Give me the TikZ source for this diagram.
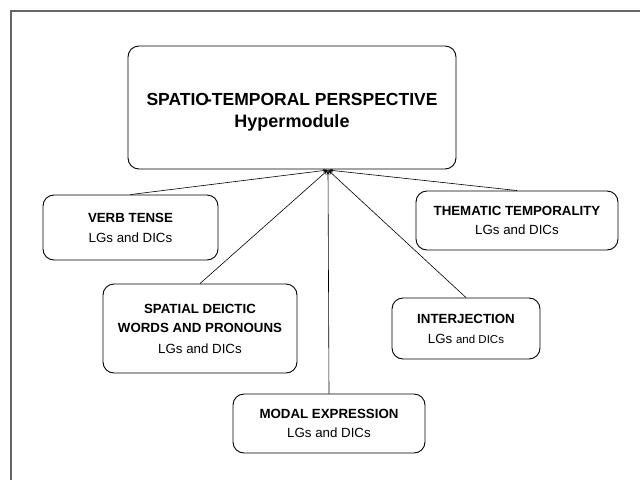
\documentclass[tikz,border=0pt]{standalone}
\usepackage{fontspec}
\setmainfont{Liberation Sans}
\usetikzlibrary{arrows.meta}
\begin{document}
\begin{tikzpicture}[x=1pt,y=-1pt,
  box/.style={draw, line width=0.9pt, rounded corners=11pt, align=center, inner sep=0pt},
  label text/.style={align=center, inner sep=0pt},
  link/.style={line width=0.6pt, -{Stealth[length=5pt,width=3pt]}},
  frame/.style={draw=black!60, line width=1.6pt}]
\useasboundingbox (0,0) rectangle (640,480);
\draw[frame] (11,480) -- (11,11) -- (640,11);
\node[box, minimum width=328pt, minimum height=123pt] (top) at (292,107.5) {};
\node[label text, font=\fontsize{17.5}{22}\selectfont\bfseries] (toptext) at (292,112)
  {SPATIO\kern-3pt-TEMPORAL PERSPECTIVE\\{\fontsize{18}{22}\selectfont Hypermodule}};
\coordinate (hub) at (328,170);
\node[box, minimum width=175pt, minimum height=65pt, font=\fontsize{13.3}{20}\selectfont] (verb) at (130.5,227.5)
  {\textbf{VERB TENSE}\\LGs and DICs};
\node[box, minimum width=202pt, minimum height=59pt, font=\fontsize{13.3}{19}\selectfont] (them) at (517,220.5)
  {\textbf{THEMATIC TEMPORALITY}\\LGs and DICs};
\node[box, minimum width=194pt, minimum height=89pt, font=\fontsize{13.3}{19.5}\selectfont] (spat) at (200,328.5)
  {\textbf{SPATIAL DEICTIC}\\\textbf{WORDS AND PRONOUNS}\\[1pt]LGs and DICs};
\node[box, minimum width=148pt, minimum height=61pt, font=\fontsize{13.3}{20}\selectfont] (inter) at (466,328.5)
  {\textbf{INTERJECTION}\\LGs {\fontsize{11.5}{20}\selectfont and DICs}};
\node[box, minimum width=192pt, minimum height=59pt, font=\fontsize{13.3}{19}\selectfont] (modal) at (329,423.5)
  {\textbf{MODAL EXPRESSION}\\LGs and DICs};
\draw[link] (verb.north) -- (hub);
\draw[link] (them.north) -- (hub);
\draw[link] (spat.north) -- (hub);
\draw[link] (inter.north) -- (hub);
\draw[link] (modal.north) -- (hub);
\end{tikzpicture}
\end{document}
